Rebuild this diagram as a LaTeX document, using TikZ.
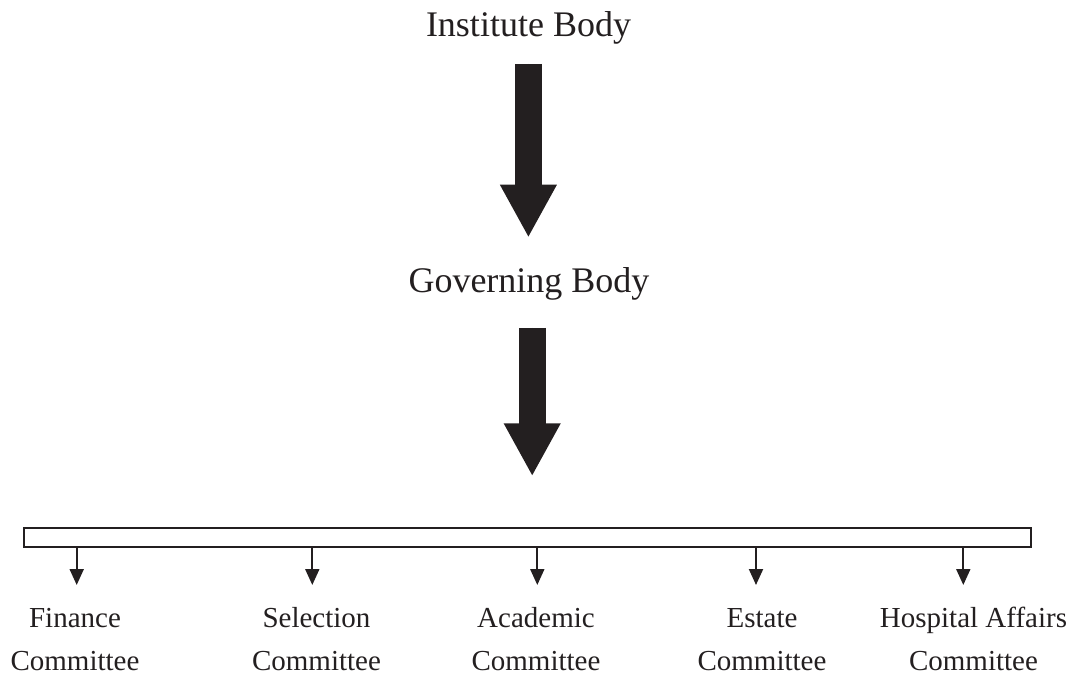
\documentclass[tikz,border=0pt]{standalone}
\usepackage{fontspec}
\setmainfont{Liberation Serif}
\usetikzlibrary{arrows.meta}
\definecolor{ink}{HTML}{231F20}
\begin{document}
\begin{tikzpicture}[x=1pt,y=-1pt,
  bigtitle/.style={inner sep=0pt,outer sep=0pt,anchor=base,text=ink,font=\fontsize{36}{40}\selectfont},
  comlabel/.style={inner sep=0pt,outer sep=0pt,anchor=base,align=center,text=ink,font=\fontsize{29}{43}\selectfont},
  bigarrow/.style={draw=ink,fill=ink,line width=26.7pt,-{Triangle[width=53pt,length=53pt]}},
  smallarrow/.style={draw=ink,line width=2pt,-{Triangle[width=14pt,length=16pt]}},
  barbox/.style={draw=ink,line width=2pt,inner sep=0pt,outer sep=0pt,minimum width=1007pt,minimum height=19pt}]
\useasboundingbox (0,0) rectangle (1077,676);
\node[bigtitle] (inst) at (528.5,37) {Institute Body};
\node[bigtitle] (gov) at (529,293) {Governing Body};
\node[barbox] (bar) at (527.2,537.8) {};
\draw[bigarrow,shorten <=19pt,shorten >=30.4pt] (inst.south -| 528.4,0) -- (gov.north -| 528.4,0);
\draw[bigarrow,shorten <=27pt,shorten >=52pt] (gov.south -| 532.2,0) -- (bar.north -| 532.2,0);
\node[comlabel] (fin) at (75,670) {Finance\\Committee};
\node[comlabel] (sel) at (316.5,670) {Selection\\Committee};
\node[comlabel] (aca) at (536,670) {Academic\\Committee};
\node[comlabel] (est) at (762,670) {Estate\\Committee};
\node[comlabel] (hos) at (973.5,670) {Hospital Affairs\\Committee};
\coordinate (t1) at (76.7,585);
\coordinate (t2) at (312.3,585);
\coordinate (t3) at (537.3,585);
\coordinate (t4) at (756,585);
\coordinate (t5) at (963.3,585);
\foreach \t in {t1,t2,t3,t4,t5}
  \draw[smallarrow] (bar.south -| \t) -- (\t);
\end{tikzpicture}
\end{document}
